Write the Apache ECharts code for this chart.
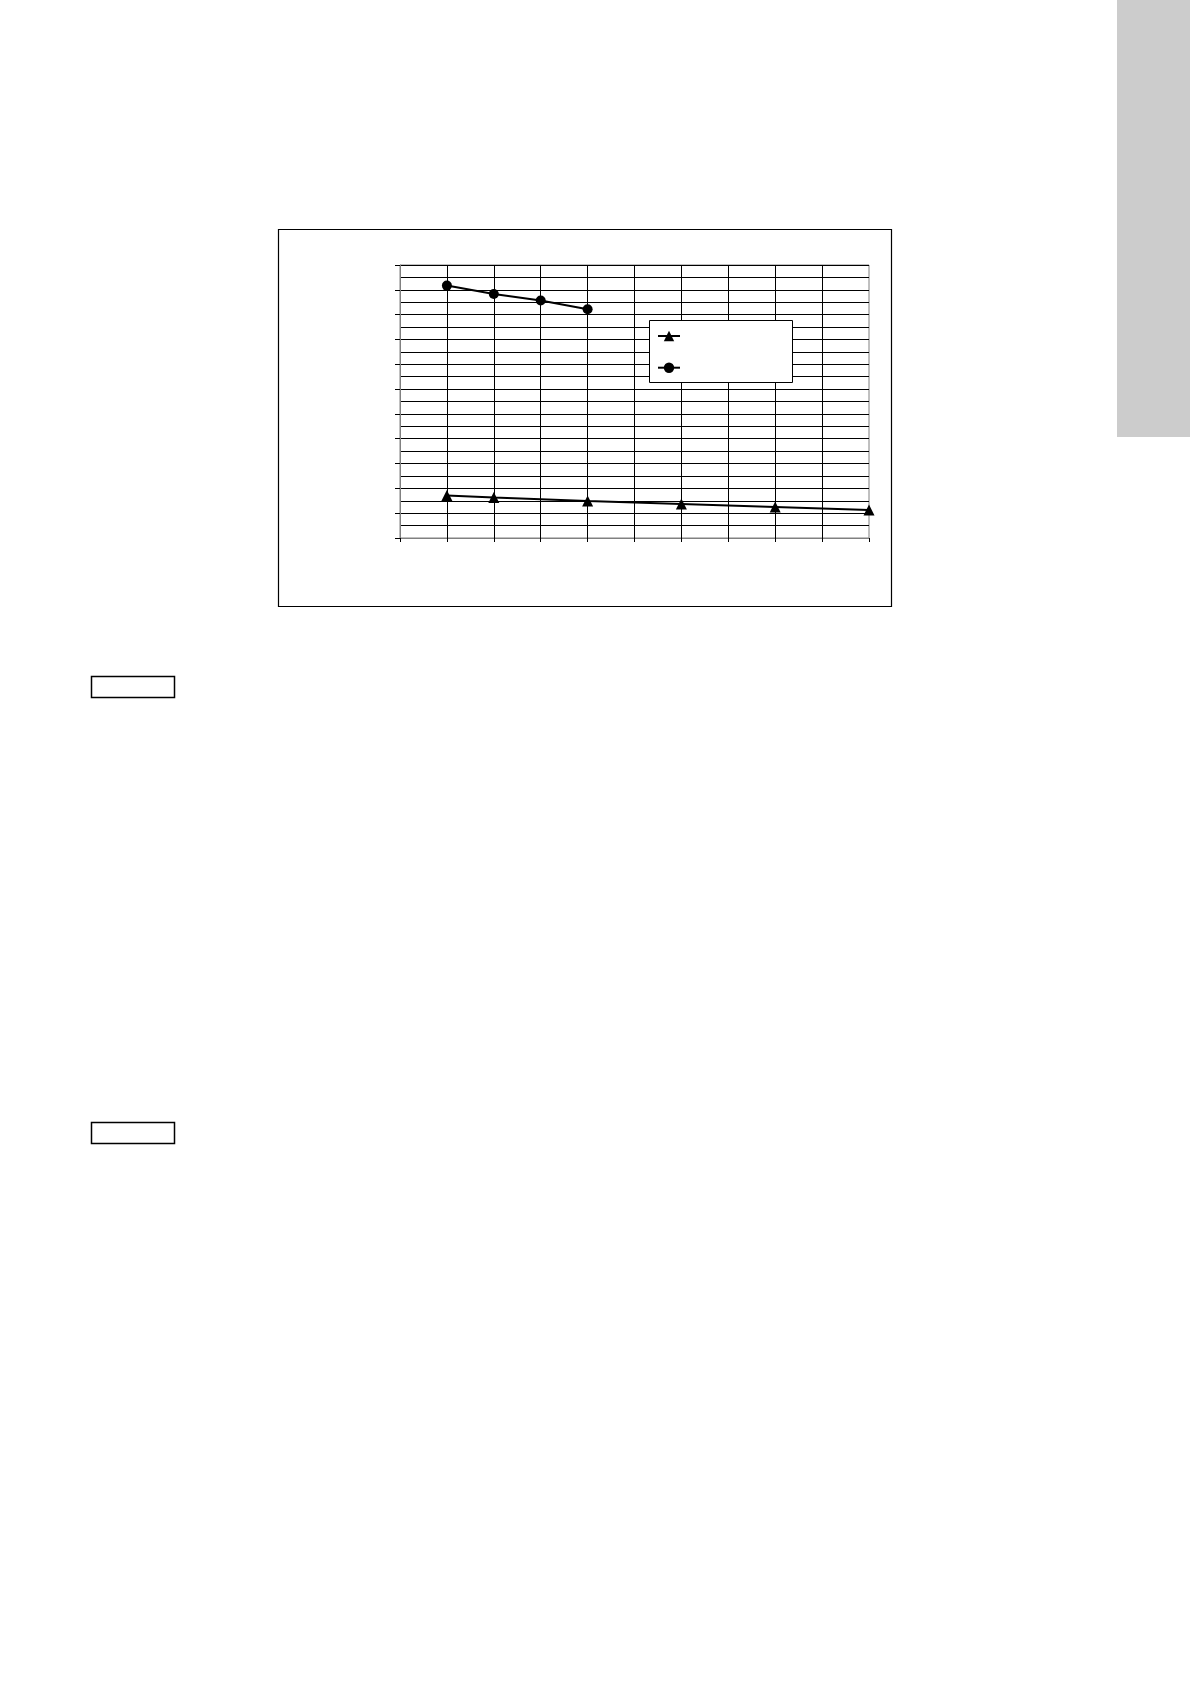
<!DOCTYPE html>
<html>
<head>
<meta charset="utf-8">
<title>chart</title>
<script src="https://cdn.jsdelivr.net/npm/echarts@6/dist/echarts.min.js"></script>
<style>
	html, body { margin: 0; padding: 0; background: #fff; }
	#main { width: 1190px; height: 1684px; }
</style>
</head>
<body>
<div id="main"></div>
<script>
///////////////数据/////////////
var xTicks = [0, 1, 2, 3, 4, 5, 6, 7, 8, 9, 10];
var triX = [1, 2, 4, 6, 8, 10];
var triY = [1.71, 1.63, 1.49, 1.37, 1.25, 1.13];
var dotX = [1, 2, 3, 4];
var dotY = [10.17, 9.83, 9.57, 9.22];

function pairs(xs, ys) {
	var out = [];
	for (var i = 0; i < xs.length; i++) {
		out.push([xs[i], ys[i]]);
	}
	return out;
}

var myChart = echarts.init(document.getElementById('main'), null, {renderer: 'canvas'});
myChart.setOption({
	backgroundColor: '#fff',
	animation: false,
	grid: {
		left: 400, top: 265, right: 321, bottom: 1146,
		show: true, borderColor: '#808080', borderWidth: 1
	},
	legend: {
		orient: 'vertical',
		left: 657, top: 329.5,
		padding: 0,
		itemWidth: 22, itemHeight: 13,
		itemGap: 20,
		z: 20,
		formatter: function(name) { return ''; },
		data: ['s1', 's2']
	},
	xAxis: {
		type: 'value',
		min: xTicks[0], max: xTicks[xTicks.length - 1], interval: 1,
		axisLine: {show: true, lineStyle: {color: '#808080', width: 1}},
		axisTick: {show: true, inside: false, length: 4, lineStyle: {color: '#000'}},
		axisLabel: {show: false},
		splitLine: {show: true, showMaxLine: false, lineStyle: {color: '#000', width: 1}}
	},
	yAxis: {
		type: 'value',
		min: 0, max: 11, interval: 1,
		axisLine: {show: true, lineStyle: {color: '#808080', width: 1}},
		axisTick: {show: true, inside: false, length: 5, lineStyle: {color: '#000'}},
		axisLabel: {show: false},
		splitLine: {show: true, showMinLine: false, lineStyle: {color: '#000', width: 1}},
		minorTick: {show: false, splitNumber: 2},
		minorSplitLine: {show: true, lineStyle: {color: '#000', width: 1}}
	},
	graphic: [
		// 图表外框
		{type: 'rect', shape: {x: 278.5, y: 229.5, width: 613, height: 377}, style: {fill: null, stroke: '#000', lineWidth: 1.2}, z: 1},
		// 图例框
		{type: 'rect', shape: {x: 649.5, y: 320.5, width: 143, height: 62}, style: {fill: '#fff', stroke: '#000', lineWidth: 1}, z: 10},
		// 小框
		{type: 'rect', shape: {x: 91.5, y: 676.5, width: 83, height: 21}, style: {fill: null, stroke: '#000', lineWidth: 1.5}, z: 1},
		{type: 'rect', shape: {x: 91.5, y: 1122.5, width: 83, height: 21}, style: {fill: null, stroke: '#000', lineWidth: 1.5}, z: 1},
		// 右侧灰条
		{type: 'rect', shape: {x: 1117, y: 0, width: 73, height: 437}, style: {fill: '#cccccc'}, z: 1}
	],
	series: [
		{
			name: 's1',
			type: 'line',
			data: pairs(triX, triY),
			symbol: 'triangle',
			symbolSize: 11,
			lineStyle: {color: '#000', width: 2},
			itemStyle: {color: '#000'}
		},
		{
			name: 's2',
			type: 'line',
			data: pairs(dotX, dotY),
			symbol: 'circle',
			symbolSize: 10,
			lineStyle: {color: '#000', width: 2},
			itemStyle: {color: '#000'}
		}
	]
});
</script>
</body>
</html>
